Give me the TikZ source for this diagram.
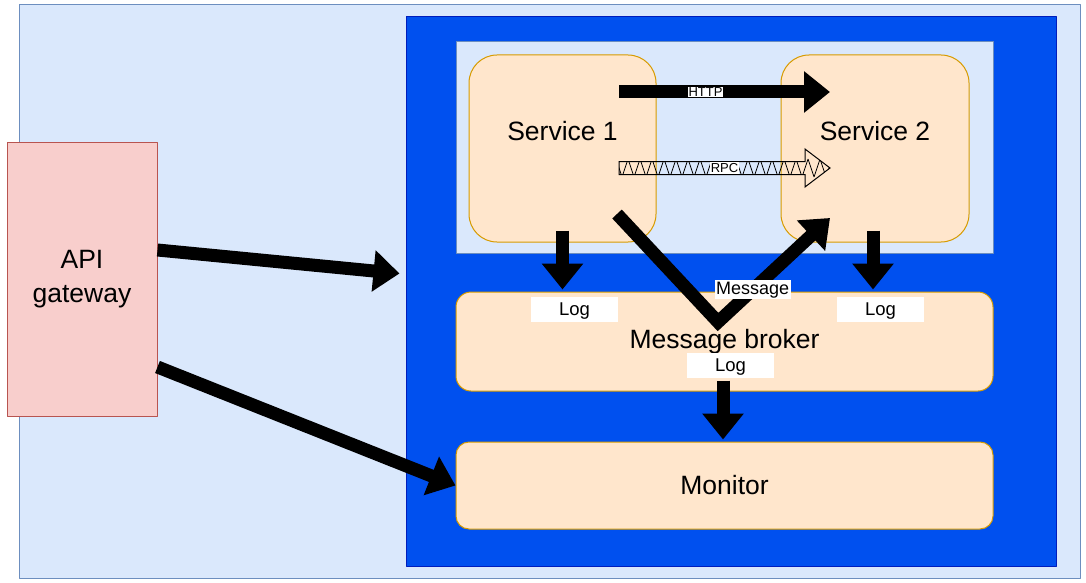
\documentclass[tikz,border=0pt]{standalone}
\usepackage{fontspec}
\setmainfont{Liberation Sans}
\usetikzlibrary{arrows.meta,decorations.pathmorphing,calc}

\definecolor{bgfill}{HTML}{DAE8FC}
\definecolor{bgline}{HTML}{6C8EBF}
\definecolor{hostfill}{HTML}{0050EF}
\definecolor{hostline}{HTML}{001DBC}
\definecolor{svcfill}{HTML}{FFE6CC}
\definecolor{svcline}{HTML}{D79B00}
\definecolor{gwfill}{HTML}{F8CECC}
\definecolor{gwline}{HTML}{B85450}

\tikzset{
  box/.style={inner sep=0pt, anchor=center, line width=1pt},
  svc/.style={box, draw=svcline, fill=svcfill},
  bigarrow/.style={line width=13pt, -{Triangle[length=26pt,width=40pt]}},
  loglabel/.style={fill=white, inner sep=0pt, minimum width=87pt, minimum height=25pt, text depth=-1pt, font=\fontsize{18.5}{20}\selectfont},
  smalllabel/.style={fill=white, inner sep=1pt, font=\fontsize{13}{14}\selectfont},
  bigtext/.style={font=\fontsize{26.5}{34}\selectfont, align=center},
}

\begin{document}
\begin{tikzpicture}[x=1pt,y=-1pt,>=latex,line join=bevel]
\useasboundingbox (0,0) rectangle (1086,583);
%%
  % Node: frame
  \node[box, draw=bgline, fill=bgfill, minimum width=1061pt, minimum height=573pt] (frame) at (549.5,291.5) {};
  % Node: host
  \node[box, draw=hostline, fill=hostfill, minimum width=650pt, minimum height=549pt] (host) at (731,291.5) {};
  % Node: services
  \node[box, draw=bgline, fill=bgfill, minimum width=537pt, minimum height=211pt] (services) at (724.5,147.5) {};
  % Node: service1
  \node[svc, rounded corners=28pt, minimum width=187pt, minimum height=187pt,
        label={[bigtext, yshift=17pt]center:Service 1}] (s1) at (562.5,148.5) {};
  % Node: service2
  \node[svc, rounded corners=28pt, minimum width=188pt, minimum height=187pt,
        label={[bigtext, yshift=17pt]center:Service 2}] (s2) at (875,148.5) {};
  % Node: broker
  \node[svc, rounded corners=15pt, minimum width=537pt, minimum height=99pt, bigtext] (broker) at (724.5,341.5) {Message broker};
  % Node: monitor
  \node[svc, rounded corners=13pt, minimum width=537pt, minimum height=87pt, bigtext] (monitor) at (724.5,485.5) {Monitor};
  % Node: api
  \node[box, draw=gwline, fill=gwfill, minimum width=150pt, minimum height=274pt, bigtext, text depth=6pt] (api) at (82,279) {API\\gateway};
%
  \coordinate (httpA) at (619,92);
  \coordinate (httpB) at (830,92);
  \coordinate (rpcA) at (619,168);
  \coordinate (rpcB) at (830,168);
  \coordinate (msgA) at (617,214);
  \coordinate (msgV) at (718,322);
  \coordinate (msgB) at (830,218);
%
  % Edge: api -- host
  \draw[bigarrow] ([yshift=29pt]api.east) -- ([xshift=-6pt,yshift=18pt]host.west);
  % Edge: api -- monitor
  \draw[bigarrow] ([yshift=-88pt]api.east) -- (monitor.west);
  % Edge: service1 -- service2 (HTTP)
  \draw[bigarrow] (httpA) -- (httpB) node[smalllabel, pos=0.41] (httplabel) {HTTP};
  % Edge: service1 -- service2 (RPC)
  \begin{scope}
    \clip (rpcA) ++(0,-6.5) -| ([shift={(-25,-19)}]rpcB) -- (rpcB) -- ([shift={(-25,19)}]rpcB) |- ([shift={(0,6.5)}]rpcA) -- cycle;
    \draw[line width=0.8pt, decorate, decoration={zigzag, segment length=12pt, amplitude=9pt}] ([xshift=-6pt]rpcA) -- ([xshift=10pt]rpcB);
  \end{scope}
  \draw[line width=1pt, line join=miter] (rpcA) ++(0,-6.5) -| ([shift={(-25,-19)}]rpcB) -- (rpcB) -- ([shift={(-25,19)}]rpcB) |- ([shift={(0,6.5)}]rpcA) -- cycle;
  \node[smalllabel] (rpclabel) at ($(rpcA)!0.5!(rpcB)$) {RPC};
  % Edge: service1 -- broker
  \draw[bigarrow] ([yshift=12pt]s1.south) -- ([yshift=2pt]s1.south |- broker.north);
  % Edge: service2 -- broker
  \draw[bigarrow] ([xshift=-2pt,yshift=12pt]s2.south) -- ([xshift=-2pt,yshift=2pt]s2.south |- broker.north);
  % Edge: service1 -- service2 (Message)
  \draw[bigarrow, line join=miter] (msgA) -- (msgV) -- (msgB) node[pos=0.31, fill=white, inner sep=1.5pt, font=\fontsize{18}{19}\selectfont] (msglabel) {Message};
  % Edge: broker -- monitor
  \draw[bigarrow] ([xshift=-1.5pt,yshift=11pt]broker.south) -- ([xshift=-1.5pt,yshift=2pt]monitor.north);
%
  % Node: log labels
  \node[loglabel] (log1) at (574.5,309.5) {Log};
  \node[loglabel] (log2) at (880.5,309.5) {Log};
  \node[loglabel] (log3) at (730.5,365.5) {Log};
%
\end{tikzpicture}
\end{document}
